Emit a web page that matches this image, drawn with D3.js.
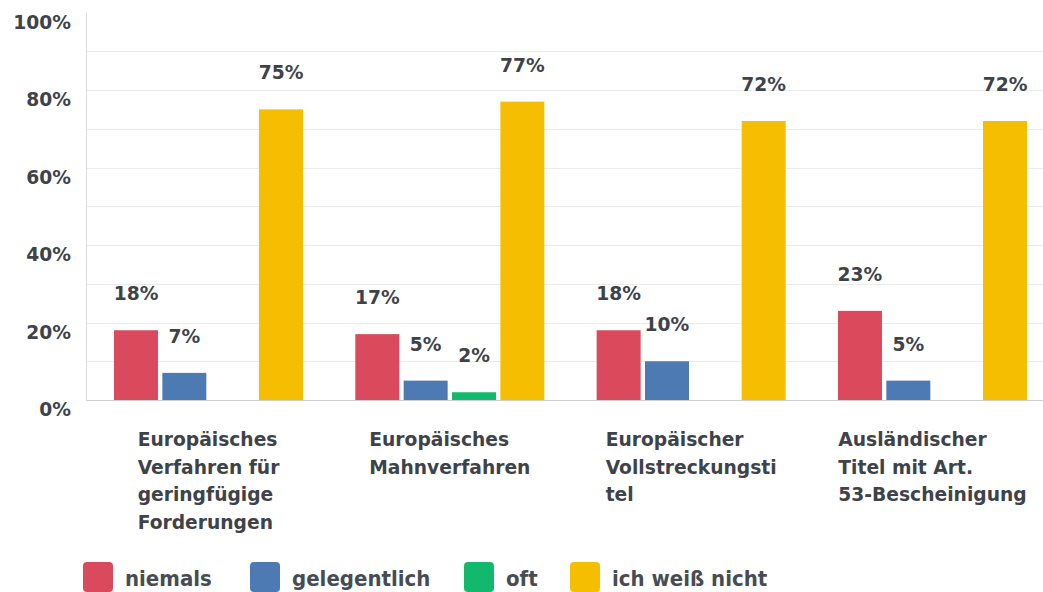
<!DOCTYPE html>
<html>
<head>
<meta charset="utf-8">
<script src="https://cdn.jsdelivr.net/npm/d3@7"></script>
<style>
  html, body { margin: 0; padding: 0; background: #fff; }
  svg { display: block; }
  .lbl { font-family: "DejaVu Sans", sans-serif; font-weight: bold; font-size: 18.7px; fill: #3e434a; }
  .leg { font-family: "DejaVu Sans Condensed", "DejaVu Sans", sans-serif; font-weight: bold; font-size: 22px; fill: #474c53; }
</style>
</head>
<body>
<svg id="chart" width="1043" height="592"></svg>
<script>
// Survey answers per procedure (percent of respondents)
const categories = [
  "Europäisches Verfahren für geringfügige Forderungen",
  "Europäisches Mahnverfahren",
  "Europäischer Vollstreckungstitel",
  "Ausländischer Titel mit Art. 53-Bescheinigung"
];
const categoryLines = [
  ["Europäisches", "Verfahren für", "geringfügige", "Forderungen"],
  ["Europäisches", "Mahnverfahren"],
  ["Europäischer", "Vollstreckungsti", "tel"],
  ["Ausländischer", "Titel mit Art.", "53-Bescheinigung"]
];
const seriesNames = ["niemals", "gelegentlich", "oft", "ich weiß nicht"];
const niemals      = [18, 17, 18, 23];
const gelegentlich = [7, 5, 10, 5];
const oft          = [0, 2, 0, 0];
const weissNicht   = [75, 77, 72, 72];
const seriesValues = [niemals, gelegentlich, oft, weissNicht];
const seriesColors = ["#da4a5c", "#4e7ab4", "#12b86b", "#f6be00"];
const yTickValues  = [0, 20, 40, 60, 80, 100];
const gridValues   = [10, 20, 30, 40, 50, 60, 70, 80, 90];

const svg = d3.select("#chart");
const W = 1043;
const plotLeft = 86, plotBottom = 400, plotTop = 12.5;

const y = d3.scaleLinear().domain([0, 100]).range([plotBottom, plotTop]);
const x0 = d3.scaleBand().domain(categories).range([plotLeft, 1055])
  .paddingInner(0.2167).paddingOuter(0.116);
const x1 = d3.scaleBand().domain(seriesNames).range([0, x0.bandwidth()])
  .paddingInner(0.09);

// grid
svg.append("g").selectAll("line").data(gridValues).join("line")
  .attr("x1", plotLeft).attr("x2", W)
  .attr("y1", d => Math.round(y(d)) + 0.5).attr("y2", d => Math.round(y(d)) + 0.5)
  .attr("stroke", "#ebebeb").attr("stroke-width", 1);

// axes lines
svg.append("line")
  .attr("x1", plotLeft + 0.5).attr("x2", plotLeft + 0.5)
  .attr("y1", plotTop).attr("y2", plotBottom)
  .attr("stroke", "#d9d9d9");
svg.append("line")
  .attr("x1", plotLeft).attr("x2", W)
  .attr("y1", plotBottom + 0.5).attr("y2", plotBottom + 0.5)
  .attr("stroke", "#d0d0d0");

// y tick labels
svg.append("g").selectAll("text").data(yTickValues).join("text")
  .attr("class", "lbl")
  .attr("x", 71).attr("y", d => y(d) + 16)
  .attr("text-anchor", "end")
  .text(d => d + "%");

// bars
const rows = categories.map((c, i) => ({
  cat: c,
  vals: seriesNames.map((s, j) => ({ s, j, v: seriesValues[j][i] }))
}));

const groups = svg.append("g").selectAll("g").data(rows).join("g")
  .attr("transform", d => `translate(${x0(d.cat)},0)`);

groups.selectAll("rect").data(d => d.vals.filter(e => e.v > 0)).join("rect")
  .attr("x", d => x1(d.s))
  .attr("y", d => y(d.v))
  .attr("width", x1.bandwidth())
  .attr("height", d => plotBottom - y(d.v))
  .attr("fill", d => seriesColors[d.j]);

groups.selectAll("text").data(d => d.vals.filter(e => e.v > 0)).join("text")
  .attr("class", "lbl")
  .attr("x", d => x1(d.s) + x1.bandwidth() / 2)
  .attr("y", d => y(d.v) - 30)
  .attr("text-anchor", "middle")
  .text(d => d.v + "%");

// category labels: left-aligned lines, block centred under each group
categories.forEach((c, i) => {
  const g = svg.append("g");
  const t = g.append("text").attr("class", "lbl").attr("y", 446);
  categoryLines[i].forEach((line, k) => {
    t.append("tspan").attr("x", 0).attr("dy", k === 0 ? 0 : 27.5).text(line);
  });
  const w = d3.max(t.selectAll("tspan").nodes(), n => n.getComputedTextLength());
  const cx = x0(c) + x0.bandwidth() / 2;
  g.attr("transform", `translate(${cx - w / 2},0)`);
});

// legend
const legendX = [83, 250, 464, 570];
const leg = svg.append("g").selectAll("g").data(seriesNames).join("g")
  .attr("transform", (d, i) => `translate(${legendX[i]},562)`);
leg.append("rect").attr("width", 30).attr("height", 30).attr("rx", 4)
  .attr("fill", (d, i) => seriesColors[i]);
leg.append("text").attr("class", "leg").attr("x", 42).attr("y", 24).text(d => d);
</script>
</body>
</html>
